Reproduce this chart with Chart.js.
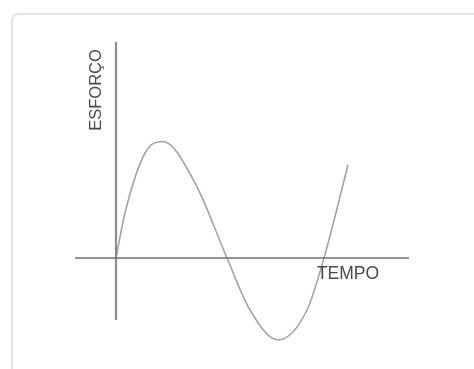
<!DOCTYPE html>
<html>
<head>
<meta charset="utf-8">
<script src="https://cdn.jsdelivr.net/npm/chart.js@4"></script>
<style>
  html, body { margin: 0; padding: 0; background: #fff; overflow: hidden; }
  #card { position: absolute; left: 11px; top: 13px; width: 520px; height: 420px;
          border: 2px solid #e4e4e4; border-radius: 7px; box-sizing: border-box; }
  #wrap { position: absolute; left: 0; top: 0; width: 474px; height: 369px; }
</style>
</head>
<body>
<div id="card"></div>
<div id="wrap"><canvas id="c"></canvas></div>
<script>
// esforço x tempo — curva desenhada à mão (unidades arbitrárias)
const tempo   = [0, 0.9, 2.9, 4.7, 7.9, 11.1, 13.4, 16.2, 19.1, 20.8, 23.2];
const esforco = [0, 4.5, 10.5, 11.65, 7.5, 0, -5.2, -8.2, -5.2, 0, 9.3];

// eixos e rótulos
const eixoX = [[-4.1, 0], [29.3, 0]];
const eixoY = [[0, 21.6], [0, -6.2]];
const rotulos = [
  { txt: "ESFORÇO", x: -2.0, y: 16.8, rot: -Math.PI / 2, size: 16.5 },
  { txt: "TEMPO",   x: 23.2, y: -1.6, rot: 0, size: 17.5 },
];

const pts = (xs, ys) => xs.map((x, i) => ({ x, y: ys[i] }));
const pairs = a => a.map(([x, y]) => ({ x, y }));

const labelsPlugin = {
  id: "rotulos",
  afterDatasetsDraw(chart) {
    const { ctx, scales: { x, y } } = chart;
    ctx.save();
    ctx.fillStyle = "#4a4a4a";
    ctx.textAlign = "center";
    ctx.textBaseline = "middle";
    rotulos.forEach(r => {
      ctx.save();
      ctx.font = r.size + "px 'Liberation Sans', Arial, sans-serif";
      ctx.translate(x.getPixelForValue(r.x), y.getPixelForValue(r.y));
      ctx.rotate(r.rot);
      ctx.fillText(r.txt, 0, 0);
      ctx.restore();
    });
    ctx.restore();
  },
};

new Chart(document.getElementById("c"), {
  type: "line",
  data: {
    datasets: [
      { label: "eixo tempo", data: pairs(eixoX), borderColor: "#6e6e6e", borderWidth: 1.6,
        pointRadius: 0, tension: 0 },
      { label: "eixo esforço", data: pairs(eixoY), borderColor: "#8c8c8c", borderWidth: 2.2,
        pointRadius: 0, tension: 0 },
      { label: "esforço", data: pts(tempo, esforco), borderColor: "#a3a3a3", borderWidth: 1.6,
        pointRadius: 0, cubicInterpolationMode: "monotone" },
    ],
  },
  options: {
    responsive: true, maintainAspectRatio: false, animation: false,
    layout: { padding: 0 },
    plugins: { legend: { display: false }, tooltip: { enabled: false } },
    scales: {
      x: { type: "linear", display: false, min: -11.6, max: 35.8 },
      y: { type: "linear", display: false, min: -11.1, max: 25.8 },
    },
  },
  plugins: [labelsPlugin],
});
</script>
</body>
</html>
